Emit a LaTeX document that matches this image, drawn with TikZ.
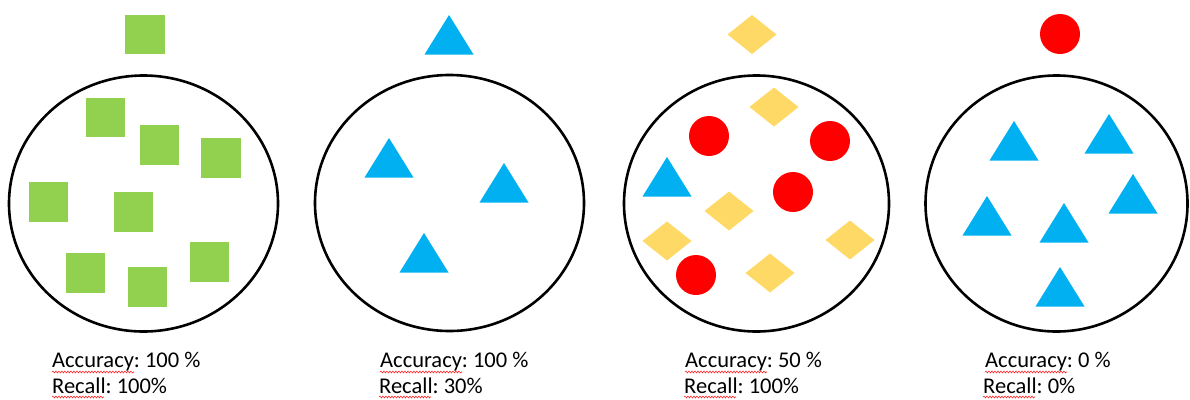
\documentclass[tikz,border=0pt]{standalone}
\usepackage{fontspec}
\setmainfont{Carlito}
\usetikzlibrary{decorations.pathmorphing}
\definecolor{sqgreen}{HTML}{92D050}
\definecolor{triblue}{HTML}{00B0F0}
\definecolor{diayellow}{HTML}{FFD966}
\definecolor{dotred}{HTML}{FF0000}
\frenchspacing
\tikzset{
  bag/.style={draw=black, line width=2.6pt},
  label text/.style={anchor=base west, inner sep=0pt, font=\fontsize{22.5}{27}\selectfont},
  squiggle/.style={draw=dotred!85!white, line width=0.6pt, decorate, decoration={snake, amplitude=0.9pt, segment length=3pt}}
}
\newcommand\sqr[2]{\fill[sqgreen] (#1-19.75,#2-19.75) rectangle (#1+19.75,#2+19.75);}
\newcommand\tri[2]{\fill[triblue] (#1,#2) -- (#1+24.5,#2+39.5) -- (#1-24.5,#2+39.5) -- cycle;}
\newcommand\dia[2]{\fill[diayellow] (#1-24.5,#2) -- (#1,#2-19.5) -- (#1+24.5,#2) -- (#1,#2+19.5) -- cycle;}
\newcommand\dotc[2]{\fill[dotred] (#1,#2) circle[radius=20];}
\begin{document}
\begin{tikzpicture}[x=1pt,y=-1pt]
\useasboundingbox (0,0) rectangle (1190,399);
% circles (bags)
\draw[bag] (143.5,203.5) ellipse[x radius=134.5, y radius=128];
\draw[bag] (449.5,203) ellipse[x radius=134.5, y radius=128];
\draw[bag] (756.5,203.5) ellipse[x radius=132.5, y radius=128];
\draw[bag] (1056.5,203.5) ellipse[x radius=131, y radius=128];
% panel 1: squares
\foreach \x/\y in {145/34.5, 105.5/117.5, 159.5/145, 221/158, 48.5/202, 133.5/212, 85.5/273, 147.5/287, 209.5/262}
  {\sqr{\x}{\y}}
% panel 2: triangles
\foreach \x/\y in {449/15, 389/138, 504/163, 424/233}
  {\tri{\x}{\y}}
% panel 3: diamonds, circles, triangle
\foreach \x/\y in {752/34.5, 774/107, 729/211, 667/241, 770/273, 850/240}
  {\dia{\x}{\y}}
\foreach \x/\y in {709/136, 830/141, 793/192, 696/275}
  {\dotc{\x}{\y}}
\tri{667}{157}
% panel 4
\dotc{1060}{34}
\foreach \x/\y in {1014/121, 1109/114, 1133/174, 987/196, 1064/203, 1060/267}
  {\tri{\x}{\y}}
% labels
\node[label text] (a1) at (52,367) {Accuracy: 100 \%};
\node[label text] (r1) at (52,393) {Recall: 100\%};
\node[label text] (a2) at (380,367) {Accuracy: 100 \%};
\node[label text] (r2) at (379,393) {Recall: 30\%};
\node[label text] (a3) at (685,367) {Accuracy: 50 \%};
\node[label text] (r3) at (684,393) {Recall: 100\%};
\node[label text] (a4) at (985,367) {Accuracy: 0 \%};
\node[label text] (r4) at (983,393) {Recall: 0\%};
% spell-check squiggles
\foreach \x in {52,380,685,985}
  {\draw[squiggle] (\x,372) -- ++(82,0);}
\foreach \x in {52,379,684,983}
  {\draw[squiggle] (\x,397) -- ++(52,0);}
\end{tikzpicture}
\end{document}
